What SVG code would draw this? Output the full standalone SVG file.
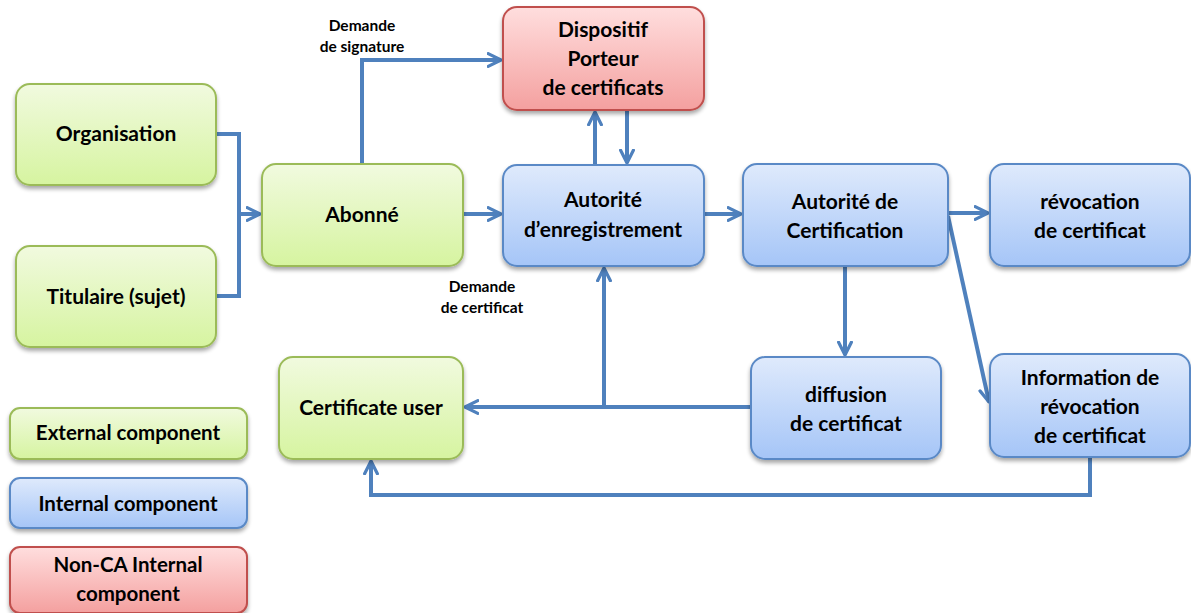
<svg xmlns="http://www.w3.org/2000/svg" width="1191" height="613" viewBox="0 0 1191 613">
<defs>
<linearGradient id="gG" x1="0" y1="0" x2="0" y2="1"><stop offset="0" stop-color="#F1FADF"/><stop offset="1" stop-color="#D6F4A0"/></linearGradient>
<linearGradient id="gB" x1="0" y1="0" x2="0" y2="1"><stop offset="0" stop-color="#DFEAFC"/><stop offset="1" stop-color="#A5C5F7"/></linearGradient>
<linearGradient id="gR" x1="0" y1="0" x2="0" y2="1"><stop offset="0" stop-color="#FFDEDE"/><stop offset="1" stop-color="#F4A09F"/></linearGradient>
<filter id="sh" x="-10%" y="-10%" width="120%" height="130%"><feGaussianBlur in="SourceAlpha" stdDeviation="2"/><feOffset dx="0" dy="3"/><feComponentTransfer><feFuncA type="linear" slope="0.35"/></feComponentTransfer><feMerge><feMergeNode/><feMergeNode in="SourceGraphic"/></feMerge></filter>
<marker id="ah" viewBox="0 0 10 10" refX="9" refY="5" markerWidth="4" markerHeight="4" markerUnits="strokeWidth" orient="auto"><path d="M1,1 L9,5 L1,9" fill="none" stroke="#4F81BD" stroke-width="2" stroke-linecap="round" stroke-linejoin="round"/></marker>
</defs>
<style>
.g{fill:url(#gG);stroke:#9BBB59;stroke-width:2;filter:url(#sh)}
.b{fill:url(#gB);stroke:#5A89C6;stroke-width:2;filter:url(#sh)}
.r{fill:url(#gR);stroke:#C0504D;stroke-width:2;filter:url(#sh)}
text{font-family:"Lato","Open Sans","Liberation Sans",sans-serif;font-weight:bold;fill:#000;text-anchor:middle}
.t{font-size:21px}
.l{font-size:20.5px}
.s{font-size:15.5px}
.c{fill:none;stroke:#4F81BD;stroke-width:4}
.a{marker-end:url(#ah)}
</style>
<rect width="1191" height="613" fill="#fff"/>
<g id="connectors">
<path class="c" d="M216,134 H239 V296 H216"/>
<path class="c a" d="M239,214 H260"/>
<path class="c a" d="M362,164 V60 H501"/>
<path class="c a" d="M463,214 H501"/>
<path class="c a" d="M595,165 V112"/>
<path class="c a" d="M627,110 V163"/>
<path class="c a" d="M751,407 H465"/>
<path class="c a" d="M604,407 V268"/>
<path class="c a" d="M704,214 H741"/>
<path class="c a" d="M948,213 H988"/>
<path class="c a" d="M845,266 V355"/>
<path class="c a" d="M948,216 L989,402"/>
<path class="c a" d="M1090,457 V495 H371 V461"/>
</g>
<g id="label-signature"><text class="s" x="362" y="31">Demande</text><text class="s" x="362" y="52">de signature</text></g>
<g id="label-certificat"><text class="s" x="482" y="292">Demande</text><text class="s" x="482" y="313">de certificat</text></g>
<g id="organisation"><rect class="g" x="16" y="84" width="200" height="101" rx="14"/><text class="t" x="116" y="141">Organisation</text></g>
<g id="titulaire"><rect class="g" x="16" y="246" width="200" height="101" rx="14"/><text class="t" x="116" y="304">Titulaire (sujet)</text></g>
<g id="abonne"><rect class="g" x="262" y="164" width="201" height="102" rx="14"/><text class="t" x="362" y="222">Abonné</text></g>
<g id="dispositif"><rect class="r" x="503" y="7" width="201" height="103" rx="14"/><text class="t" x="603" y="37">Dispositif</text><text class="t" x="603" y="66">Porteur</text><text class="t" x="603" y="95">de certificats</text></g>
<g id="autorite-enregistrement"><rect class="b" x="503" y="165" width="201" height="101" rx="14"/><text class="t" x="603" y="207">Autorité</text><text class="t" x="603" y="237">d’enregistrement</text></g>
<g id="autorite-certification"><rect class="b" x="743" y="164" width="205" height="102" rx="14"/><text class="t" x="845" y="209">Autorité de</text><text class="t" x="845" y="238">Certification</text></g>
<g id="revocation"><rect class="b" x="990" y="164" width="200" height="102" rx="14"/><text class="t" x="1090" y="209">révocation</text><text class="t" x="1090" y="238">de certificat</text></g>
<g id="diffusion"><rect class="b" x="751" y="357" width="190" height="102" rx="14"/><text class="t" x="846" y="402">diffusion</text><text class="t" x="846" y="431">de certificat</text></g>
<g id="information-revocation"><rect class="b" x="990" y="354" width="200" height="103" rx="14"/><text class="t" x="1090" y="385">Information de</text><text class="t" x="1090" y="414">révocation</text><text class="t" x="1090" y="443">de certificat</text></g>
<g id="certificate-user"><rect class="g" x="279" y="357" width="184" height="102" rx="14"/><text class="t" x="371" y="415">Certificate user</text></g>
<g id="legend-external"><rect class="g" x="10" y="408" width="237" height="51" rx="10"/><text class="l" x="128" y="440">External component</text></g>
<g id="legend-internal"><rect class="b" x="10" y="478" width="237" height="50" rx="10"/><text class="l" x="128" y="511">Internal component</text></g>
<g id="legend-nonca"><rect class="r" x="10" y="547" width="237" height="66" rx="10"/><text class="l" x="128" y="572">Non-CA Internal</text><text class="l" x="128" y="601">component</text></g>
</svg>
